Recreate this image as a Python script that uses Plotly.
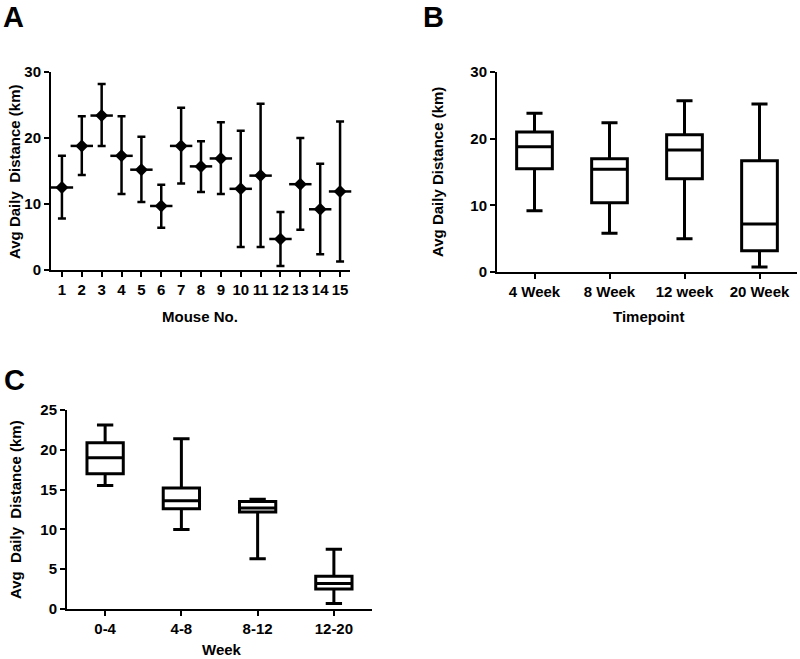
import plotly.graph_objects as go

# Panel A: mean with range per mouse
mice = list(range(1, 16))
mean_a = [12.5, 18.8, 23.4, 17.3, 15.2, 9.7, 18.8, 15.7, 16.9, 12.3, 14.3, 4.7, 13.0, 9.2, 11.9]
low_a = [7.8, 14.4, 18.8, 11.5, 10.3, 6.4, 13.1, 11.8, 11.5, 3.5, 3.5, 0.6, 6.1, 2.4, 1.3]
high_a = [17.3, 23.3, 28.2, 23.3, 20.2, 12.9, 24.6, 19.5, 22.4, 21.1, 25.2, 8.8, 20.0, 16.1, 22.5]

# Panel B: box plots per timepoint
cats_b = ["4 Week", "8 Week", "12 week", "20 Week"]
min_b = [9.2, 5.8, 5.0, 0.75]
q1_b = [15.5, 10.4, 14.0, 3.2]
med_b = [18.8, 15.4, 18.3, 7.2]
q3_b = [21.0, 17.0, 20.6, 16.7]
max_b = [23.8, 22.4, 25.7, 25.2]

# Panel C: box plots per week interval
cats_c = ["0-4", "4-8", "8-12", "12-20"]
min_c = [15.5, 10.0, 6.3, 0.7]
q1_c = [17.0, 12.6, 12.2, 2.5]
med_c = [19.0, 13.6, 12.7, 3.2]
q3_c = [20.9, 15.2, 13.5, 4.1]
max_c = [23.1, 21.4, 13.8, 7.5]

W, H = 800, 659
FONT = "Liberation Sans, Arial, sans-serif"

def px(x):
    return x / W

def py(y):
    return 1 - y / H

fig = go.Figure()

err_plus = [h - m for h, m in zip(high_a, mean_a)]
err_minus = [m - l for m, l in zip(mean_a, low_a)]
fig.add_trace(go.Scatter(
    x=mice, y=mean_a, mode="markers",
    marker=dict(symbol="diamond", size=10, color="black"),
    error_y=dict(type="data", array=err_plus, arrayminus=err_minus,
                 color="black", thickness=2.5, width=4),
    xaxis="x", yaxis="y", showlegend=False, cliponaxis=False,
))
fig.add_trace(go.Scatter(
    x=mice, y=mean_a, mode="markers",
    marker=dict(symbol="line-ew", size=16, line=dict(color="black", width=2.5)),
    xaxis="x", yaxis="y", showlegend=False, cliponaxis=False,
))

box_style = dict(line=dict(color="black", width=3), fillcolor="white",
                 whiskerwidth=0.45, showlegend=False, boxpoints=False)
fig.add_trace(go.Box(x=cats_b, q1=q1_b, median=med_b, q3=q3_b,
                     lowerfence=min_b, upperfence=max_b,
                     xaxis="x2", yaxis="y2", **box_style))
fig.add_trace(go.Box(x=cats_c, q1=q1_c, median=med_c, q3=q3_c,
                     lowerfence=min_c, upperfence=max_c,
                     xaxis="x3", yaxis="y3", **box_style))

axis_common = dict(showline=True, linecolor="black", linewidth=2,
                   ticks="outside", ticklen=5, tickwidth=2, tickcolor="black",
                   showgrid=False, zeroline=False, automargin=False,
                   tickfont=dict(family=FONT, size=15, color="black", weight="bold"))

fig.update_layout(
    width=W, height=H,
    margin=dict(l=0, r=0, t=0, b=0, autoexpand=False),
    plot_bgcolor="white", paper_bgcolor="white", boxgap=0.32,
    xaxis=dict(domain=[px(51), px(350)], range=[0.45, 15.5], tickvals=mice,
               anchor="y", **axis_common),
    yaxis=dict(domain=[py(270), py(72)], range=[0, 30], tickvals=[0, 10, 20, 30],
               anchor="x", **axis_common),
    xaxis2=dict(domain=[px(497), px(797)], range=[-0.5, 3.5], type="category",
                categoryarray=cats_b, anchor="y2", **axis_common),
    yaxis2=dict(domain=[py(272), py(72)], range=[0, 30], tickvals=[0, 10, 20, 30],
                anchor="x2", **axis_common),
    xaxis3=dict(domain=[px(67), px(372)], range=[-0.5, 3.5], type="category",
                categoryarray=cats_c, anchor="y3", **axis_common),
    yaxis3=dict(domain=[py(609), py(410)], range=[0, 25], tickvals=[0, 5, 10, 15, 20, 25],
                anchor="x3", **axis_common),
)

title_font = dict(family=FONT, size=15, color="black", weight="bold")
letter_font = dict(family=FONT, size=29, color="black", weight="bold")

def ann(text, x, y, font, angle=0):
    fig.add_annotation(text=text, x=px(x), y=py(y), xref="paper", yref="paper",
                       showarrow=False, font=font, textangle=angle, borderpad=0,
                       xanchor="center", yanchor="middle")

ann("A", 13, 17, letter_font)
ann("B", 433, 17, letter_font)
ann("C", 14, 380, letter_font)

ann("Avg Daily\u00a0\u00a0Distance (km)", 15, 172, title_font, -90)
ann("Avg Daily Distance (km)", 438, 172, title_font, -90)
ann("Avg\u00a0\u00a0Daily\u00a0\u00a0Distance (km)", 15, 510, title_font, -90)

ann("Mouse No.", 200, 316, title_font)
ann("Timepoint", 648, 316, title_font)
ann("Week", 222, 649, title_font)

fig.write_html("out.html", config={"displayModeBar": False},
               post_script="document.body.style.margin='0';document.body.style.overflow='hidden';")
